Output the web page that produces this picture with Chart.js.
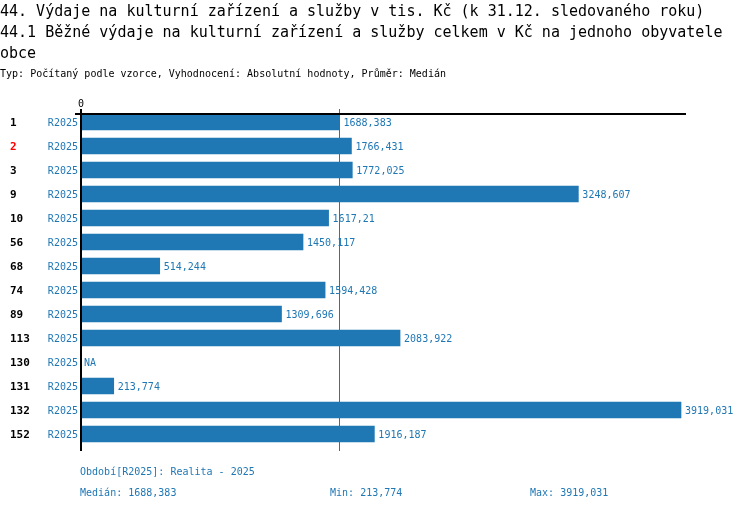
<!DOCTYPE html>
<html>
<head>
<meta charset="utf-8">
<script src="https://cdn.jsdelivr.net/npm/chart.js@4/dist/chart.umd.min.js"></script>
<style>
    body { margin: 0; background: #fff; }
    canvas { display: block; }
</style>
</head>
<body>
<canvas id="chart" width="750" height="510"></canvas>
<script>
// Data
const categories = ["1", "2", "3", "9", "10", "56", "68", "74", "89", "113", "130", "131", "132", "152"];
const periods = ["R2025", "R2025", "R2025", "R2025", "R2025", "R2025", "R2025", "R2025", "R2025", "R2025", "R2025", "R2025", "R2025", "R2025"];
const values = [1688.383, 1766.431, 1772.025, 3248.607, 1617.21, 1450.117, 514.244, 1594.428, 1309.696, 2083.922, null, 213.774, 3919.031, 1916.187];
const highlighted = ["2"];
const xTicks = [0];

const titleLines = [
    "44. Výdaje na kulturní zařízení a služby v tis. Kč (k 31.12. sledovaného roku)",
    "44.1 Běžné výdaje na kulturní zařízení a služby celkem v Kč na jednoho obyvatele",
    "obce"
];
const subtitle = "Typ: Počítaný podle vzorce, Vyhodnocení: Absolutní hodnoty, Průměr: Medián";
const periodNote = "Období[R2025]: Realita - 2025";

const BLUE = "#1f77b4";
const MONO = "'DejaVu Sans Mono', 'Liberation Mono', monospace";

function fmt(v) {
    return String(v).replace(".", ",");
}

function median(arr) {
    const s = arr.filter(v => v !== null).sort((a, b) => a - b);
    const m = Math.floor(s.length / 2);
    return s.length % 2 ? s[m] : (s[m - 1] + s[m]) / 2;
}

// small narrow text, a bit taller than the plain 10px mono
function smallText(ctx, text, x, y, align) {
    ctx.save();
    ctx.font = "11px " + MONO;
    ctx.textAlign = align;
    ctx.translate(x, y);
    ctx.scale(0.91, 1);
    ctx.fillText(text, 0, 0);
    ctx.restore();
}

const present = values.filter(v => v !== null);
const med = median(values);
const minV = Math.min(...present);
const maxV = Math.max(...present);

// Median line goes behind the bars
const medianLine = {
    id: "medianLine",
    beforeDatasetsDraw(chart) {
        const ctx = chart.ctx;
        const area = chart.chartArea;
        const mx = Math.round(chart.scales.x.getPixelForValue(med)) + 0.5;
        ctx.save();
        ctx.strokeStyle = BLUE;
        ctx.lineWidth = 1;
        ctx.beginPath();
        ctx.moveTo(mx, area.top - 1);
        ctx.lineTo(mx, area.bottom + 5);
        ctx.stroke();
        ctx.restore();
    }
};

// Titles, labels, axis lines and footer
const decorations = {
    id: "decorations",
    afterDatasetsDraw(chart) {
        const ctx = chart.ctx;
        const x = chart.scales.x;
        const y = chart.scales.y;
        const area = chart.chartArea;
        ctx.save();

        // titles
        ctx.fillStyle = "#000";
        ctx.textBaseline = "alphabetic";
        ctx.textAlign = "left";
        ctx.font = "15px " + MONO;
        titleLines.forEach((t, i) => ctx.fillText(t, 0, 16 + i * 21));
        smallText(ctx, subtitle, 0, 77, "left");

        // top axis line
        ctx.strokeStyle = "#000";
        ctx.lineWidth = 2;
        ctx.beginPath();
        ctx.moveTo(x.left - 6, area.top + 4);
        ctx.lineTo(x.right, area.top + 4);
        ctx.stroke();

        // vertical axis line
        const zx = x.getPixelForValue(0);
        ctx.beginPath();
        ctx.moveTo(zx, area.top - 1);
        ctx.lineTo(zx, area.bottom + 5);
        ctx.stroke();

        // tick labels on top
        ctx.fillStyle = "#000";
        xTicks.forEach(t => smallText(ctx, String(t), x.getPixelForValue(t), area.top - 3, "center"));

        // category labels, period labels and values
        ctx.textBaseline = "middle";
        categories.forEach((c, i) => {
            const cy = y.getPixelForValue(i) + 1;
            ctx.textAlign = "left";
            ctx.font = "bold 11px " + MONO;
            ctx.fillStyle = highlighted.includes(c) ? "#ff0000" : "#000";
            ctx.fillText(c, 10, cy);

            ctx.fillStyle = BLUE;
            smallText(ctx, periods[i], zx - 3, cy, "right");
            const v = values[i];
            if (v === null) {
                smallText(ctx, "NA", zx + 3, cy, "left");
            } else {
                smallText(ctx, fmt(v), x.getPixelForValue(v) + 4, cy, "left");
            }
        });

        // footer
        ctx.fillStyle = BLUE;
        smallText(ctx, periodNote, 80, 472, "left");
        smallText(ctx, "Medián: " + fmt(med), 80, 493, "left");
        smallText(ctx, "Min: " + fmt(minV), 330, 493, "left");
        smallText(ctx, "Max: " + fmt(maxV), 530, 493, "left");

        ctx.restore();
    }
};

const chart = new Chart(document.getElementById("chart").getContext("2d"), {
    type: "bar",
    data: {
        labels: categories,
        datasets: [{
            data: values,
            backgroundColor: BLUE,
            borderWidth: 0,
            barThickness: 16
        }]
    },
    options: {
        indexAxis: "y",
        responsive: false,
        animation: false,
        devicePixelRatio: 1,
        layout: {
            padding: { left: 81, right: 64, top: 110, bottom: 64 }
        },
        plugins: {
            legend: { display: false },
            tooltip: { enabled: false }
        },
        scales: {
            x: {
                display: false,
                min: 0,
                max: maxV * 605 / 600
            },
            y: {
                display: false
            }
        }
    },
    plugins: [medianLine, decorations]
});
</script>
</body>
</html>
